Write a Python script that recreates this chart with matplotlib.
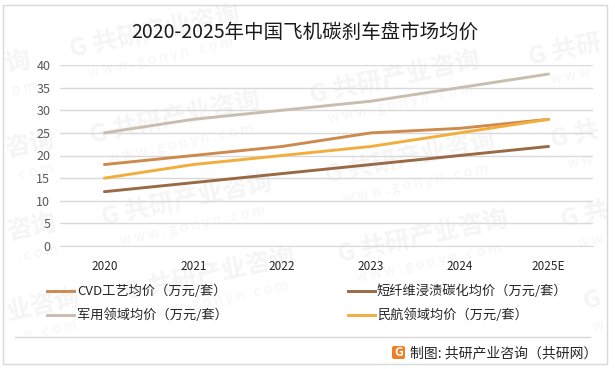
import matplotlib
matplotlib.use('Agg')
import matplotlib.pyplot as plt
from matplotlib.lines import Line2D
from matplotlib.patches import Rectangle, FancyBboxPatch
from matplotlib.transforms import Affine2D

plt.rcParams['font.family'] = ['Noto Sans CJK SC', 'DejaVu Sans']

years = ['2020', '2021', '2022', '2023', '2024', '2025E']
cvd = [18, 20, 22, 25, 26, 28]
short_fiber = [12, 14, 16, 18, 20, 22]
military = [25, 28, 30, 32, 35, 38]
civil = [15, 18, 20, 22, 25, 28]
y_ticks = [0, 5, 10, 15, 20, 25, 30, 35, 40]

W, H = 615, 369
fig = plt.figure(figsize=(W / 100, H / 100), dpi=100)

# pixel coords, origin top left
px = Affine2D().scale(1 / W, -1 / H).translate(0, 1) + fig.transFigure

# outer border
fig.add_artist(Rectangle((2.5, 4.5), 604, 359.5, transform=px, fill=False, edgecolor='#d9d9d9', linewidth=1))

# watermarks, the ones at the sides are cut to what fits in the frame
marks = [
    (155, 32, 'G 共研产业咨询', 'w w w . g o n y n . c o m'),
    (175, 118, 'G 共研产业咨询', 'w w w . g o n y n . c o m'),
    (187, 200, 'G 共研产业咨询', 'w w w . g o n y n . c o m'),
    (210, 275, 'G 共研产业咨询', 'w w w . g o n y n . c o m'),
    (395, 78, 'G 共研产业咨询', 'w w w . g o n y n . c o m'),
    (410, 158, 'G 共研产业咨询', 'w w w . g o n y n . c o m'),
    (423, 237, 'G 共研产业咨询', 'w w w . g o n y n . c o m'),
    (18, 63, '询', 'o m'),
    (30, 145, '咨询', 'c o m'),
    (32, 228, '咨询', '. c o m'),
    (44, 305, '业咨询', 'n . c o m'),
    (565, 50, 'G 共研', 'w w w'),
    (575, 135, 'G 共', 'w w'),
    (585, 215, 'G 共', 'w w'),
    (592, 300, 'G', 'w'),
]
for x, y, name, site in marks:
    fig.text(x / W, 1 - y / H, name, color='#f5f5f5', fontsize=18, fontweight='bold',
             rotation=12, ha='center', va='center', rotation_mode='anchor', zorder=-1)
    fig.text((x + 6) / W, 1 - (y + 26) / H, site, color='#f5f5f5', fontsize=10,
             rotation=12, ha='center', va='center', rotation_mode='anchor', zorder=-1)

ax = fig.add_axes([60 / W, 1 - 246 / H, 533 / W, 181 / H])
ax.patch.set_alpha(0)

ax.plot(years, cvd, color='#cd8a4e', linewidth=2.1, solid_capstyle='round')
ax.plot(years, short_fiber, color='#9a6a46', linewidth=2.1, solid_capstyle='round')
ax.plot(years, military, color='#c9bdb0', linewidth=2.1, solid_capstyle='round')
ax.plot(years, civil, color='#f2ae3d', linewidth=2.1, solid_capstyle='round')

ax.set_xlim(-0.5, 5.5)
ax.set_ylim(0, 40)
ax.set_yticks(y_ticks)
ax.grid(axis='y', color='#d9d9d9', linewidth=1)
ax.set_axisbelow(True)
for s in ['top', 'right', 'left']:
    ax.spines[s].set_visible(False)
ax.spines['bottom'].set_color('#d9d9d9')
ax.tick_params(length=0)
ax.tick_params(axis='y', labelsize=9, labelcolor='#595959', pad=7)
ax.tick_params(axis='x', labelsize=8.5, labelcolor='#262626', pad=10)

fig.text(305 / W, 1 - 32 / H, '2020-2025年中国飞机碳刹车盘市场均价', fontsize=14, color='#1a1a1a',
         ha='center', va='center')

# legend
legend_items = [
    (47, 74, 77, 291, 'CVD工艺均价（万元/套）', '#cd8a4e'),
    (348, 375, 376, 291, '短纤维浸渍碳化均价（万元/套）', '#9a6a46'),
    (47, 74, 77, 315, '军用领域均价（万元/套）', '#c9bdb0'),
    (348, 375, 377, 315, '民航领域均价（万元/套）', '#f2ae3d'),
]
for x0, x1, tx, y, label, color in legend_items:
    fig.add_artist(Line2D([x0, x1], [y, y], transform=px, color=color, linewidth=2.1))
    fig.text(tx / W, 1 - y / H, label, fontsize=9.5, color='#262626', va='center')

# footer
fig.add_artist(Line2D([15, 590], [337, 337], transform=px, color='#d9d9d9', linewidth=1))
fig.add_artist(FancyBboxPatch((392, 346), 13, 13, boxstyle='round,pad=0,rounding_size=2', transform=px,
                              facecolor='#f07f22', edgecolor='none'))
fig.text(398.5 / W, 1 - 352 / H, 'G', color='white', fontsize=9, fontweight='bold', ha='center', va='center')
fig.text(410 / W, 1 - 353 / H, '制图: 共研产业咨询（共研网）', fontsize=10, color='#262626', va='center')

fig.savefig('out.png', dpi=100)
